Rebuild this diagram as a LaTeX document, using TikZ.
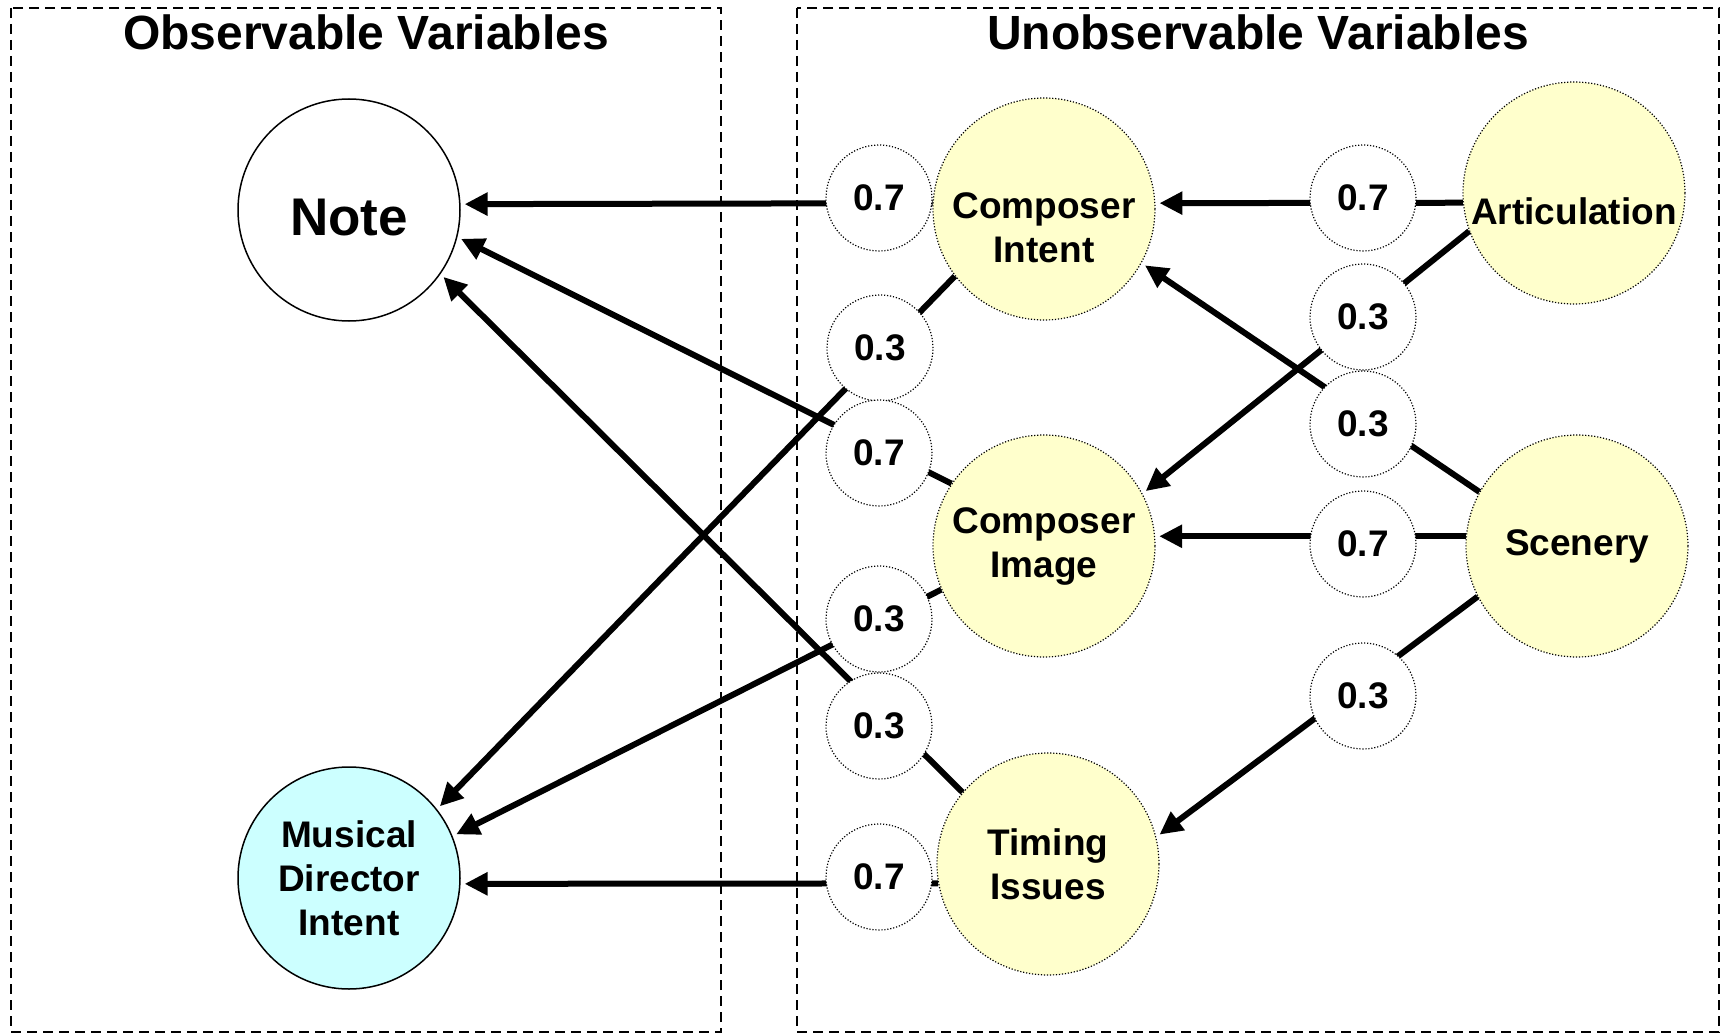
\documentclass[tikz,border=0pt]{standalone}
\usepackage{fontspec}
\setmainfont{Liberation Sans}
\usetikzlibrary{arrows.meta, positioning}
\definecolor{hiddenfill}{HTML}{FFFFCC}
\definecolor{obsfill}{HTML}{CCFFFF}
\newcommand{\padtop}[1]{\rule{0pt}{#1}}
\tikzset{>={Triangle[length=23pt, width=22pt]},
    box/.style={draw, line width=1.4pt, dash pattern=on 10pt off 6pt},
    title/.style={font=\fontsize{48}{56}\selectfont\bfseries},
    var/.style={circle, draw, line width=1.5pt, minimum size=222pt, inner sep=0pt, align=center, font=\fontsize{37}{44}\selectfont\bfseries},
    hidden/.style={var, line width=1.2pt, dash pattern=on 1.2pt off 1.8pt, fill=hiddenfill},
    wt/.style={circle, draw, line width=1.2pt, dash pattern=on 1.2pt off 1.8pt, fill=white, minimum size=106pt, inner sep=0pt, font=\fontsize{37}{44}\selectfont\bfseries},
    link/.style={->, line width=6pt, shorten >=4pt}}

\begin{document}
\begin{tikzpicture}[x=1pt, y=-1pt]
    \useasboundingbox (0,0) rectangle (1721,1035);
    \draw[box] (11,8) rectangle (721,1032);
    \draw[box] (797,8) rectangle (1719,1032);
    \node[title] (obstitle) at (366,32) {Observable Variables};
    \node[title] (unobstitle) at (1258,32) {Unobservable Variables};

    % observable
    \node[var, font=\fontsize{53}{60}\selectfont\bfseries] (note) at (349,210) {\padtop{52pt}Note};
    \node[var, fill=obsfill] (mdi) at (349,878) {Musical\\Director\\Intent};

    % unobservable
    \node[hidden] (ci) at (1044,209) {\padtop{63pt}Composer\\Intent};
    \node[hidden] (cim) at (1044,546) {Composer\\Image};
    \node[hidden] (ti) at (1048,864) {Timing\\Issues};
    \node[hidden] (art) at (1574,193) {\padtop{63pt}Articulation};
    \node[hidden] (sce) at (1577,546) {Scenery};

    \draw[link] (ci.177) -- (note.3);
    \draw[link] (ci.217) -- (mdi.38);
    \draw[link] (cim.146) -- (note.-14);
    \draw[link] (cim.203) -- (mdi.22);
    \draw[link] (ti.140) -- (note.-35);
    \draw[link] (ti.190) -- (mdi.-3);
    \draw[link] (art.185) -- (ci.3);
    \draw[link] (art.200) -- (cim.28);
    \draw[link] (sce.151) -- (ci.-29);
    \draw[link] (sce.175) -- (cim.5);
    \draw[link] (sce.207) -- (ti.14);

    % weights
    \node[wt] (wcinote) at (879,198) {0.7};
    \node[wt] (wcimdi) at (880,348) {0.3};
    \node[wt] (wcimnote) at (879,453) {0.7};
    \node[wt] (wcimmdi) at (879,619) {0.3};
    \node[wt] (wtinote) at (879,726) {0.3};
    \node[wt] (wtimdi) at (879,877) {0.7};
    \node[wt] (wartci) at (1363,198) {0.7};
    \node[wt] (wartcim) at (1363,317) {0.3};
    \node[wt] (wsceci) at (1363,424) {0.3};
    \node[wt] (wscecim) at (1363,544) {0.7};
    \node[wt] (wsceti) at (1363,696) {0.3};
\end{tikzpicture}
\end{document}
